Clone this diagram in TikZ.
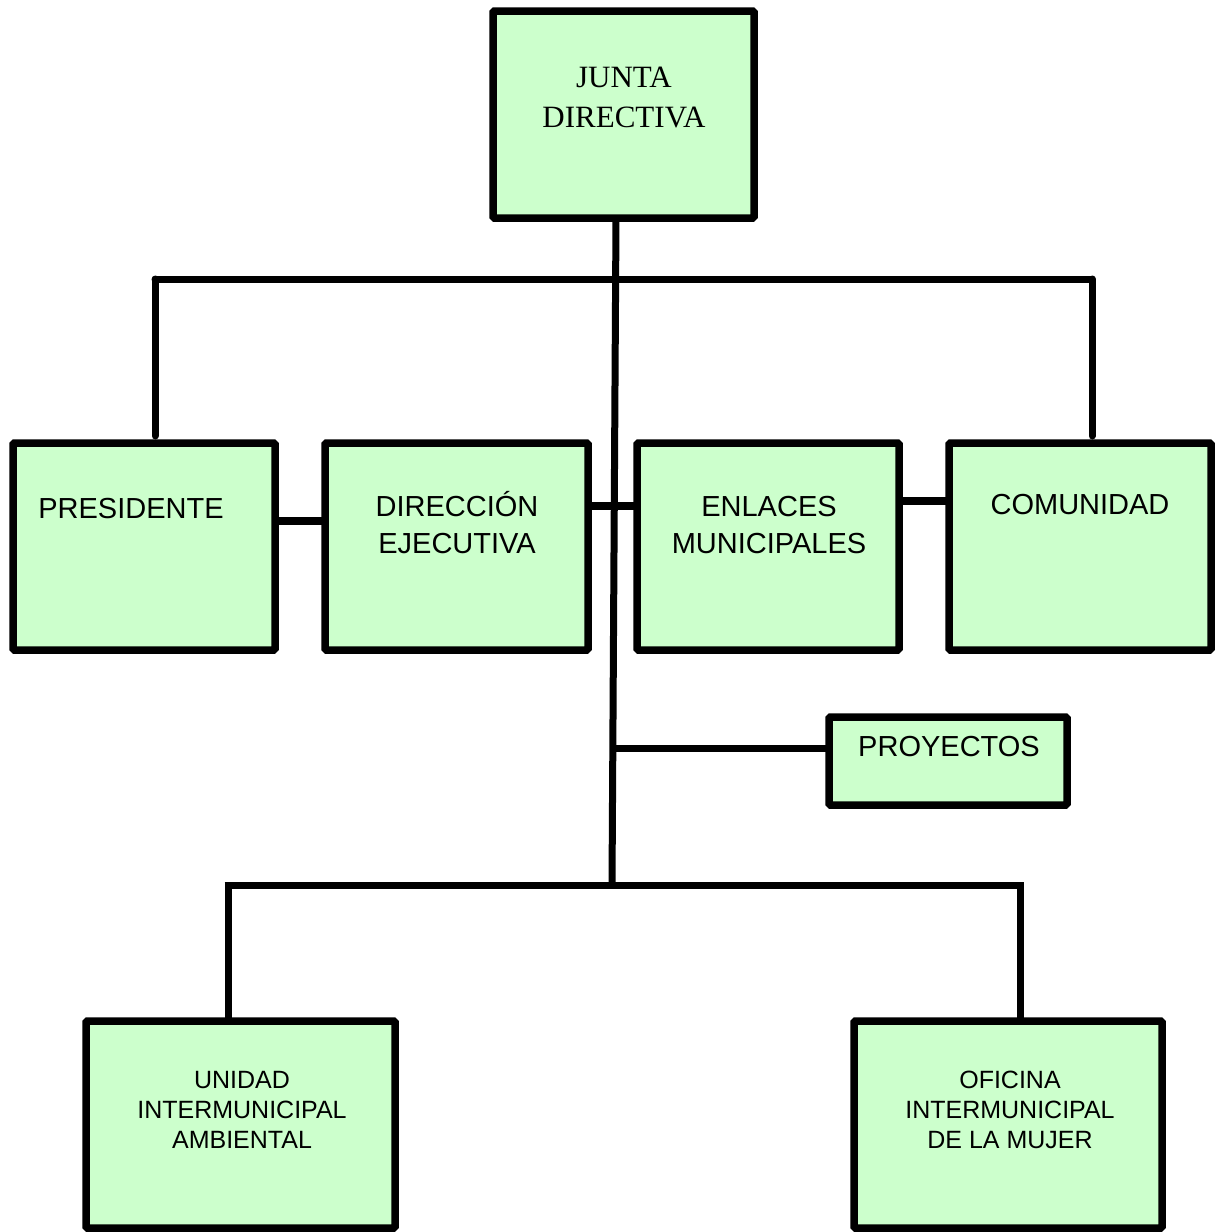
\documentclass[tikz,border=0pt]{standalone}
\usepackage{fontspec}
\setmainfont{Liberation Sans}
\newfontfamily\serifjd{Liberation Serif}
\definecolor{boxgreen}{HTML}{CCFFCC}
\tikzset{
  orgbox/.style={draw=black, fill=boxgreen, line width=7.5pt, rounded corners=1.5pt,
                 inner sep=0pt, outer sep=0pt},
  link/.style={draw=black, line width=7pt, line cap=round},
  sidelink/.style={draw=black, line width=8pt},
  bigtxt/.style={font=\fontsize{29}{37}\selectfont, align=center, anchor=base, inner sep=0pt},
  smalltxt/.style={font=\fontsize{25}{30}\selectfont, align=center, anchor=base, inner sep=0pt},
}
\begin{document}
\begin{tikzpicture}[x=1pt, y=-1pt]
\useasboundingbox (0,0) rectangle (1215,1232);

% boxes
\node[orgbox, minimum width=261pt, minimum height=207pt] (junta) at (623.5,114.5) {};
\node[orgbox, minimum width=262pt, minimum height=207pt] (pres) at (144,546.5) {};
\node[orgbox, minimum width=263pt, minimum height=207pt] (dir) at (456.5,546.5) {};
\node[orgbox, minimum width=262pt, minimum height=207pt] (enl) at (768,546.5) {};
\node[orgbox, minimum width=262pt, minimum height=207pt] (com) at (1080,546.5) {};
\node[orgbox, minimum width=238pt, minimum height=88pt] (proy) at (948,761) {};
\node[orgbox, minimum width=309pt, minimum height=207pt] (uia) at (240.5,1124.5) {};
\node[orgbox, minimum width=308pt, minimum height=207pt] (oim) at (1008,1124.5) {};

% labels (multi-line labels sit on the baseline of their last line)
\node[font=\serifjd\fontsize{31}{40}\selectfont, align=center, anchor=base, inner sep=0pt]
  (juntatxt) at (624,127.5) {JUNTA\\DIRECTIVA};
\node[bigtxt] (prestxt) at (131,518) {PRESIDENTE};
\node[bigtxt] (dirtxt) at (457,553) {DIRECCIÓN\\EJECUTIVA};
\node[bigtxt] (enltxt) at (769,553) {ENLACES\\MUNICIPALES};
\node[bigtxt] (comtxt) at (1080,514) {COMUNIDAD};
\node[bigtxt] (proytxt) at (949,756) {PROYECTOS};
\node[smalltxt] (uiatxt) at (242,1148) {UNIDAD\\INTERMUNICIPAL\\AMBIENTAL};
\node[smalltxt] (oimtxt) at (1010,1148) {OFICINA\\INTERMUNICIPAL\\DE LA MUJER};

% junction points
\coordinate (trunktop) at (616,222);
\coordinate (topL) at (155,279);
\coordinate (topR) at (1092,279);
\coordinate (proyjoin) at (611,748);
\coordinate (hub) at (612,885);
\coordinate (botL) at (228,885);
\coordinate (botR) at (1020,885);
\coordinate (rowA) at (0,521);
\coordinate (rowB) at (0,506);
\coordinate (rowC) at (0,501);

% main trunk
\draw[link, line cap=butt] (junta.south -| trunktop) -- (hub);
% upper bar and drops
\draw[link] (topL) -- (topR);
\draw[link] (topL) -- ([yshift=7pt]pres.north -| topL);
\draw[link] (topR) -- ([yshift=7pt]com.north -| topR);
% side links in the middle row
\draw[sidelink] (pres.east |- rowA) -- (dir.west |- rowA);
\draw[sidelink] (dir.east |- rowB) -- (enl.west |- rowB);
\draw[sidelink] (enl.east |- rowC) -- (com.west |- rowC);
% projects branch
\draw[link, line cap=butt] (proyjoin) -- (proy.west |- proyjoin);
% lower bar and drops
\draw[link, line cap=butt] ([xshift=-3.5pt]botL) -- ([xshift=3.5pt]botR);
\draw[link, line cap=butt] (botL) -- (uia.north -| botL);
\draw[link, line cap=butt] (botR) -- (oim.north -| botR);
\end{tikzpicture}
\end{document}
